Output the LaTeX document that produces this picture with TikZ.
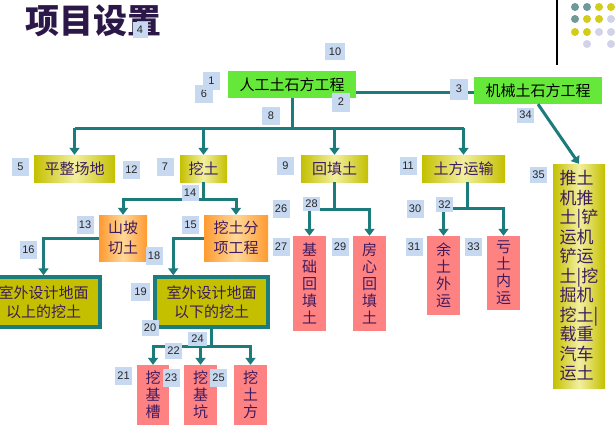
\documentclass[tikz,border=0pt]{standalone}
\usepackage{fontspec}
\setmainfont{Liberation Sans}
\newfontfamily\cjk{Noto Sans CJK SC}
\usetikzlibrary{arrows.meta}
\definecolor{teal0}{HTML}{1C7C7C}
\definecolor{lblue}{HTML}{C6D9F0}
\definecolor{green0}{HTML}{66E83A}
\definecolor{ylw}{HTML}{C4C000}
\definecolor{ylwl}{HTML}{F2F0A0}
\definecolor{org}{HTML}{FF9A30}
\definecolor{orgl}{HTML}{FFD898}
\definecolor{red0}{HTML}{FF8282}
\definecolor{purp}{HTML}{3E1A5E}
\definecolor{titlec}{HTML}{2C1848}
\definecolor{dteal}{HTML}{6E9A9A}
\definecolor{dyel}{HTML}{D4CC1A}
\definecolor{dlav}{HTML}{D2D2E8}
\tikzset{
  box/.style={inner sep=0pt, font=\cjk\fontsize{15}{20}\selectfont, align=center},
  gbox/.style={box, fill=green0, text=black},
  ybox/.style={box, left color=ylw, right color=ylw, middle color=ylwl, text=purp},
  obox/.style={box, left color=org, right color=org, middle color=orgl, text=purp},
  rbox/.style={box, fill=red0, text=purp, font=\cjk\fontsize{15}{17}\selectfont},
  tbox/.style={box, fill=ylw, draw=teal0, line width=3.5pt, text=purp, font=\cjk\fontsize{15}{19}\selectfont},
  lbl/.style={fill=lblue, inner sep=0pt, minimum width=17pt, minimum height=18pt, font=\fontsize{11}{11}\selectfont, text=black!85},
  conn/.style={draw=teal0, line width=3pt},
  arr/.style={conn, -{Triangle[width=10pt,length=7pt]}},
  dot/.style={circle, inner sep=0pt, minimum size=8pt}
}
\begin{document}
\begin{tikzpicture}[x=1pt,y=-1pt]
\useasboundingbox (0,0) rectangle (615,434);
\clip (0,0) rectangle (615,434);
\fill[white] (0,0) rectangle (615,434);
% decoration
\draw[black, line width=1.2pt] (557,0) -- (557,65);
\foreach \x/\y/\c [count=\i] in {575/7/dteal,587/7/dteal,599/7/dyel,611/7/dyel,
  575/19/dteal,587/19/dyel,599/19/dyel,611/19/dlav,
  575/32/dyel,587/32/dyel,599/32/dlav,611/32/dlav,
  587/44/dlav,611/44/dlav}
  \node[dot, fill=\c] (d\i) at (\x,\y) {};
% title
\node[anchor=west, text=titlec, font=\cjk\bfseries\fontsize{34}{34}\selectfont, inner sep=0pt] (title) at (25,21) {项目设置};
% top boxes
\node[gbox, minimum width=128pt, minimum height=27pt] (rg) at (292,84.5) {人工土石方工程};
\node[gbox, minimum width=128pt, minimum height=27pt] (jx) at (538,90.5) {机械土石方工程};
% level 2
\node[ybox, minimum width=81pt, minimum height=27pt] (pz) at (74.5,168.5) {平整场地};
\node[ybox, minimum width=47pt, minimum height=27pt] (wt) at (203.5,168.5) {挖土};
\node[ybox, minimum width=67pt, minimum height=27pt] (ht) at (334.5,168.5) {回填土};
\node[ybox, minimum width=83pt, minimum height=27pt] (ys) at (463.5,168.5) {土方运输};
% level 3
\node[obox, minimum width=48pt, minimum height=46pt] (sp) at (123,238) {山坡\\切土};
\node[obox, minimum width=64pt, minimum height=46pt] (fx) at (236,238) {挖土分\\项工程};
\node[tbox, minimum width=113pt, minimum height=50pt] (ysh) at (43.5,302) {室外设计地面\\以上的挖土};
\node[tbox, minimum width=113pt, minimum height=50pt] (yx) at (211.5,302) {室外设计地面\\以下的挖土};
\node[rbox, minimum width=32pt, minimum height=60pt] (jc) at (153,395) {挖\\基\\槽};
\node[rbox, minimum width=33pt, minimum height=60pt] (jk) at (200.5,395) {挖\\基\\坑};
\node[rbox, minimum width=33pt, minimum height=60pt] (tf) at (250.5,395) {挖\\土\\方};
\node[rbox, minimum width=33pt, minimum height=95pt] (jchf) at (309.5,283.5) {基\\础\\回\\填\\土};
\node[rbox, minimum width=33pt, minimum height=95pt] (fxhf) at (369.5,283.5) {房\\心\\回\\填\\土};
\node[rbox, minimum width=33pt, minimum height=79pt] (yw) at (443.5,275.5) {余\\土\\外\\运};
\node[rbox, minimum width=33pt, minimum height=74pt] (kn) at (503.5,273) {亏\\土\\内\\运};
\node[ybox, minimum width=52pt, minimum height=224pt, align=left, font=\cjk\fontsize{17}{19.5}\selectfont] (tt) at (579,276)
  {推土\\机推\\土|铲\\运机\\铲运\\土|挖\\掘机\\挖土|\\载重\\汽车\\运土};
% connectors
\coordinate (rge) at ([yshift=-7.5pt]rg.east);
\draw[conn] (rge) -- (rge -| jx.west);
\draw[conn] (rg.south) -- ++(0,30) coordinate (bus);
\draw[conn] (pz.north |- bus) -- (ys.north |- bus);
\foreach \n in {pz,wt,ht,ys} \draw[arr] (\n.north |- bus) -- (\n.north);
\draw[arr] (jx.south) -- (tt.north);
\draw[conn] (wt.south) -- ++(0,17) coordinate (wtj);
\draw[arr] (wtj) -| (sp.north);
\draw[arr] (wtj) -| (fx.north);
\draw[arr] (sp.west) -| (ysh.north);
\coordinate (yxn) at ([xshift=20pt]yx.north west);
\draw[arr] (fx.west) -| (yxn);
\draw[conn] (yx.south) -- ++(0,18) coordinate (yxj);
\draw[arr] (yxj) -| (jc.north);
\draw[arr] (yxj) -| (jk.north);
\draw[arr] (yxj) -| (tf.north);
\draw[conn] (ht.south) -- ++(0,27) coordinate (htj);
\draw[arr] (htj) -| (jchf.north);
\draw[arr] (htj) -| (fxhf.north);
\coordinate (yss) at ([xshift=4pt]ys.south);
\draw[conn] (yss) -- ++(0,26) coordinate (ysj);
\draw[arr] (ysj) -| (yw.north);
\draw[arr] (ysj) -| (kn.north);
% labels
\node[lbl, minimum width=18pt, minimum height=18pt] (l6) at (204,94) {6};
\node[lbl] (l1) at (211.5,81) {1};
\node[lbl, minimum width=18pt, minimum height=19pt] (l2) at (341,102) {2};
\node[lbl, minimum width=18pt, minimum height=21pt] (l3) at (459,89) {3};
\node[lbl, minimum width=15pt, minimum height=16pt] (l4) at (140,30) {4};
\node[lbl] (l5) at (20.5,166.5) {5};
\node[lbl] (l7) at (165,166.5) {7};
\node[lbl, minimum width=18pt] (l8) at (271,116) {8};
\node[lbl] (l9) at (285.5,166) {9};
\node[lbl, minimum width=20pt, minimum height=17pt] (l10) at (335,51.5) {10};
\node[lbl] (l11) at (408,166) {11};
\node[lbl] (l12) at (131.5,170) {12};
\node[lbl] (l13) at (85,225) {13};
\node[lbl, minimum height=16pt] (l14) at (190,192.5) {14};
\node[lbl] (l15) at (190.5,225) {15};
\node[lbl] (l16) at (28.5,249.5) {16};
\node[lbl] (l18) at (154,255.5) {18};
\node[lbl, minimum width=19pt] (l19) at (140.5,292) {19};
\node[lbl, minimum height=16pt] (l20) at (150,328) {20};
\node[lbl] (l21) at (123.5,376) {21};
\node[lbl, minimum height=16pt] (l22) at (173.5,351) {22};
\node[lbl] (l23) at (171,378) {23};
\node[lbl, minimum width=19pt, minimum height=14pt] (l24) at (197.5,338.5) {24};
\node[lbl] (l25) at (218.5,378) {25};
\node[lbl] (l26) at (281,209) {26};
\node[lbl] (l27) at (281,247) {27};
\node[lbl, minimum height=14pt] (l28) at (311.5,203.5) {28};
\node[lbl] (l29) at (340,247) {29};
\node[lbl] (l30) at (415,209) {30};
\node[lbl] (l31) at (414,247) {31};
\node[lbl, minimum height=15pt] (l32) at (444.5,204.5) {32};
\node[lbl] (l33) at (473.5,247) {33};
\node[lbl, minimum height=15pt] (l34) at (525.5,115) {34};
\node[lbl, minimum height=16pt] (l35) at (538.5,175) {35};
\end{tikzpicture}
\end{document}
